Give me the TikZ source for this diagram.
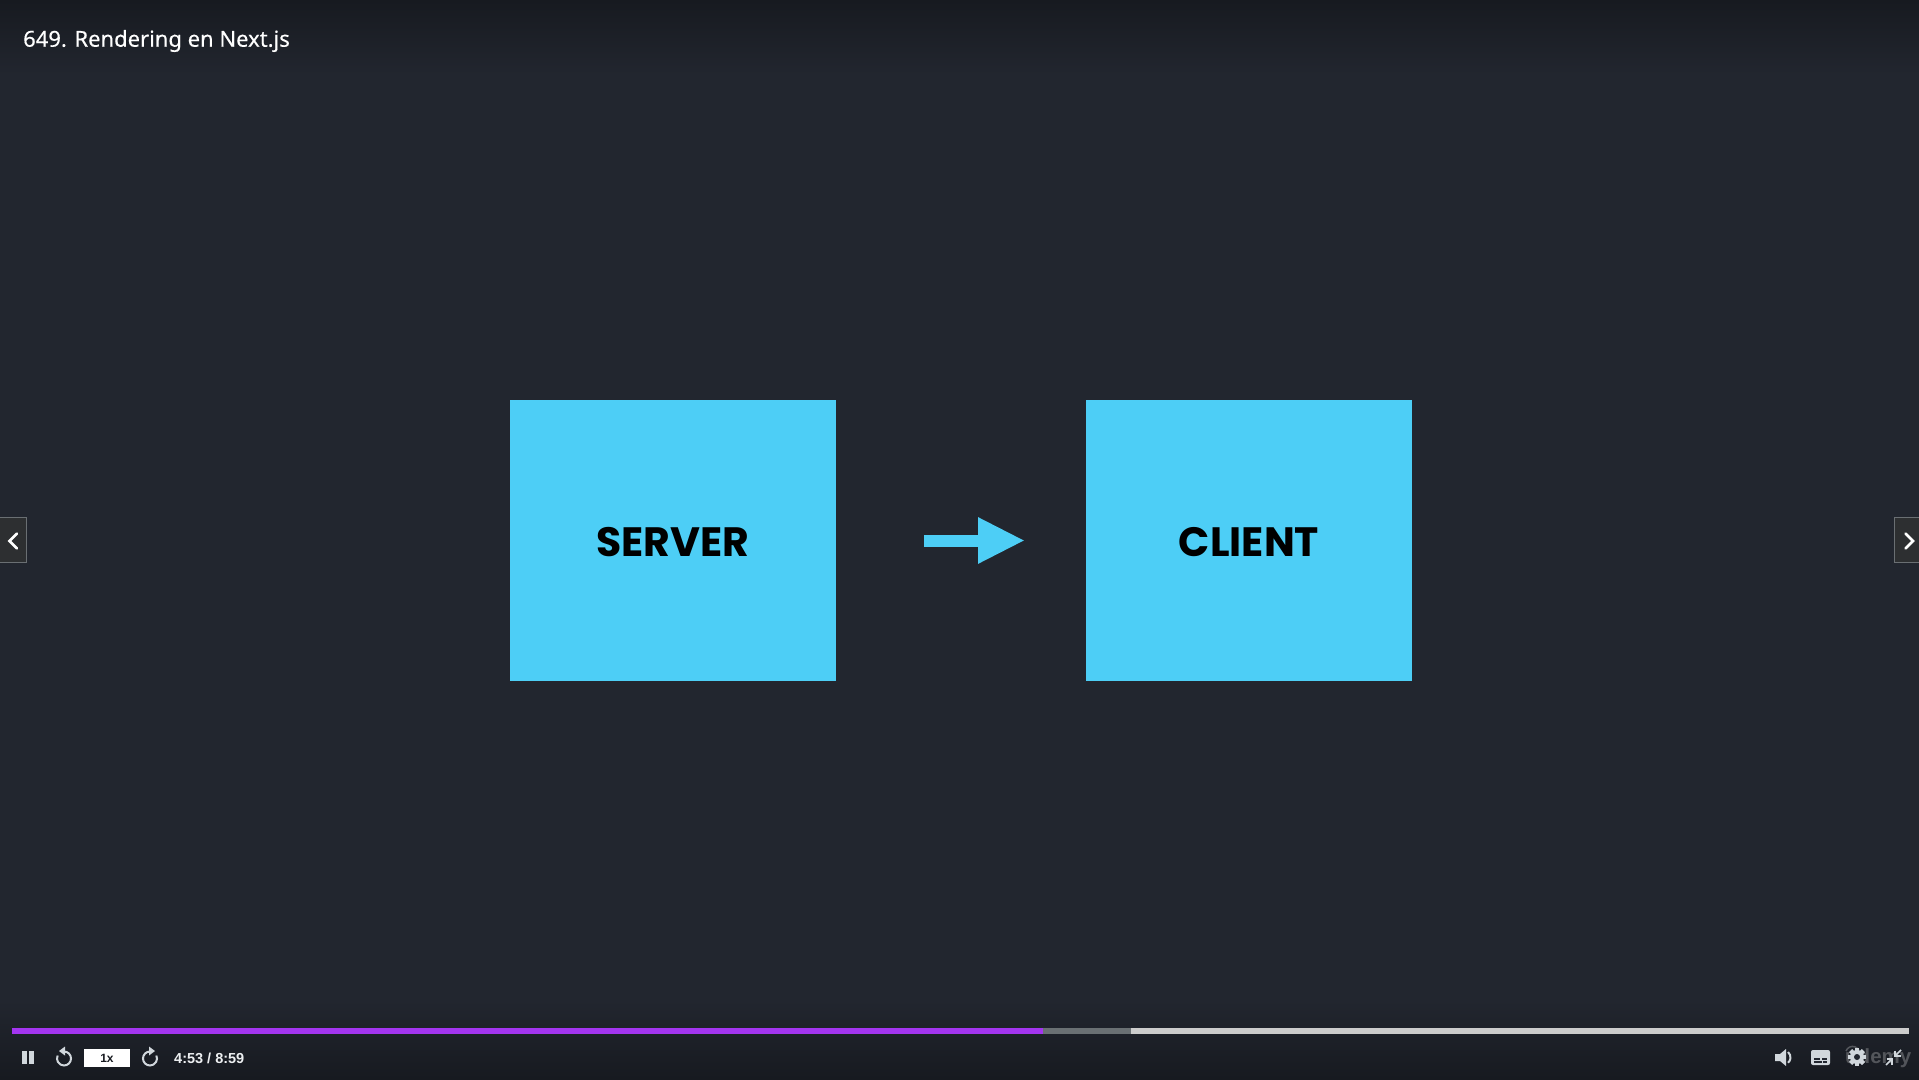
\documentclass[tikz,border=0pt]{standalone}
\usepackage{fontspec}
\setmainfont{Liberation Sans}
\newfontfamily\boxfont{Poppins}
\newfontfamily\titlefont[FakeBold=0.35]{Noto Sans}
\usetikzlibrary{arrows.meta}
\definecolor{bgmain}{HTML}{22262F}
\definecolor{bgdark}{HTML}{171A20}
\definecolor{sky}{HTML}{4DCEF6}
\definecolor{iconc}{HTML}{D1D7DC}
\definecolor{purplebar}{HTML}{A435F0}
\definecolor{midbar}{HTML}{6A7073}
\definecolor{lightbar}{HTML}{CCCCCC}
\definecolor{navfill}{HTML}{2D2F31}
\definecolor{navline}{HTML}{6A6F73}
\tikzset{
  x=1pt,y=-1pt,
  flowbox/.style={fill=sky,draw=none,minimum width=326pt,minimum height=281pt,inner sep=0pt,text=black,font=\boxfont\bfseries\fontsize{41}{41}\selectfont},
  navbox/.style={fill=navfill,draw=navline,line width=1pt},
  chev/.style={draw=white,line width=2.6pt,line cap=round,line join=miter},
  icon/.style={draw=iconc,line width=2pt},
  iconthin/.style={draw=iconc,line width=1.6pt}
}
\begin{document}
\begin{tikzpicture}
\useasboundingbox (0,0) rectangle (1919,1079);
% background
\fill[bgmain] (0,0) rectangle (1919,1079);
\fill[top color=bgdark,bottom color=bgmain,draw=none] (0,0) rectangle (1919,75);
\fill[top color=bgmain,bottom color=bgdark,draw=none] (0,1000) rectangle (1919,1079);
\begin{scope}[yshift=-1pt]
% title
\node[anchor=west,inner sep=0pt,text=white,font=\titlefont\fontsize{22}{22}\selectfont] (title) at (23,40) {649. Rendering en Next.js};
% boxes
\node[flowbox] (server) at (673,539.5) {\raisebox{-15.5pt}[0pt][0pt]{SERVER}};
\node[flowbox] (client) at (1249,539.5) {\raisebox{-15.5pt}[0pt][0pt]{CLIENT}};
\coordinate (arrowfrom) at (924,539.5);
\coordinate (arrowto) at (1025,539.5);
\draw[sky,line width=12pt,-{Triangle[length=47pt,width=43pt]}] (arrowfrom) -- (arrowto);
% side nav
\draw[navbox] (-2,516.5) rectangle (26,561.5);
\draw[chev] (17,532.5) -- (9.5,540) -- (17,547.5);
\draw[navbox] (1894,516.5) rectangle (1921,561.5);
\draw[chev] (1905.5,532.5) -- (1913,540) -- (1905.5,547.5);
% progress bar
\fill[purplebar] (12,1027) rectangle (1043,1033);
\fill[midbar] (1043,1027) rectangle (1131,1033);
\fill[lightbar] (1131,1027) rectangle (1909,1033);
% pause
\fill[iconc] (22,1050) rectangle (27,1063);
\fill[iconc] (29,1050) rectangle (34,1063);
% back
\draw[icon] (64,1050.5) arc[start angle=-90,end angle=205,radius=7];
\fill[iconc] (65,1045.5) -- (65,1054.5) -- (59,1050) -- cycle;
% speed
\node[fill=white,minimum width=46pt,minimum height=18pt,inner sep=0pt,text=bgdark,font=\bfseries\fontsize{12}{12}\selectfont] (speed) at (107,1057) {1x};
% forward
\draw[icon] (150,1050.5) arc[start angle=-90,end angle=-385,radius=7];
\fill[iconc] (149,1045.5) -- (149,1054.5) -- (155,1050) -- cycle;
% time
\node[anchor=west,inner sep=0pt,text=iconc!40!white,font=\bfseries\fontsize{14.5}{14.5}\selectfont] (time) at (174,1057) {4:53 / 8:59};
% watermark
\node[anchor=west,inner sep=0pt,text=white,opacity=0.25,font=\bfseries\fontsize{20.5}{20.5}\selectfont] (mark) at (1845,1057) {udemy};
\draw[white,opacity=0.25,line width=1.5pt] (1846,1050) arc[start angle=-160,end angle=-20,radius=7];
% speaker
\fill[iconc] (1775,1053) -- (1780,1053) -- (1786,1048) -- (1786,1065) -- (1780,1060) -- (1775,1060) -- cycle;
\draw[icon] (1788,1051) arc[start angle=-50,end angle=50,radius=7];
% captions
\fill[iconc,rounded corners=2pt] (1811,1049) rectangle (1830,1064);
\fill[bgmain] (1814,1057) rectangle (1820,1059);
\fill[bgmain] (1822,1057) rectangle (1827,1059);
\fill[bgmain] (1814,1060) rectangle (1822,1062);
\fill[bgmain] (1823,1060) rectangle (1827,1062);
% gear
\foreach \a in {0,45,...,315}{
  \fill[iconc,rotate around={\a:(1857,1056)}] (1855,1047) rectangle (1859,1065);
}
\fill[iconc] (1857,1056) circle[radius=7];
\fill[bgmain] (1857,1056) circle[radius=3];
% compress
\draw[iconthin] (1901,1049) -- (1895,1055);
\draw[iconthin] (1895,1049.5) -- (1895,1055) -- (1900.5,1055);
\draw[iconthin] (1886,1064) -- (1892,1058);
\draw[iconthin] (1886.5,1058) -- (1892,1058) -- (1892,1063.5);
\end{scope}
\end{tikzpicture}
\end{document}
